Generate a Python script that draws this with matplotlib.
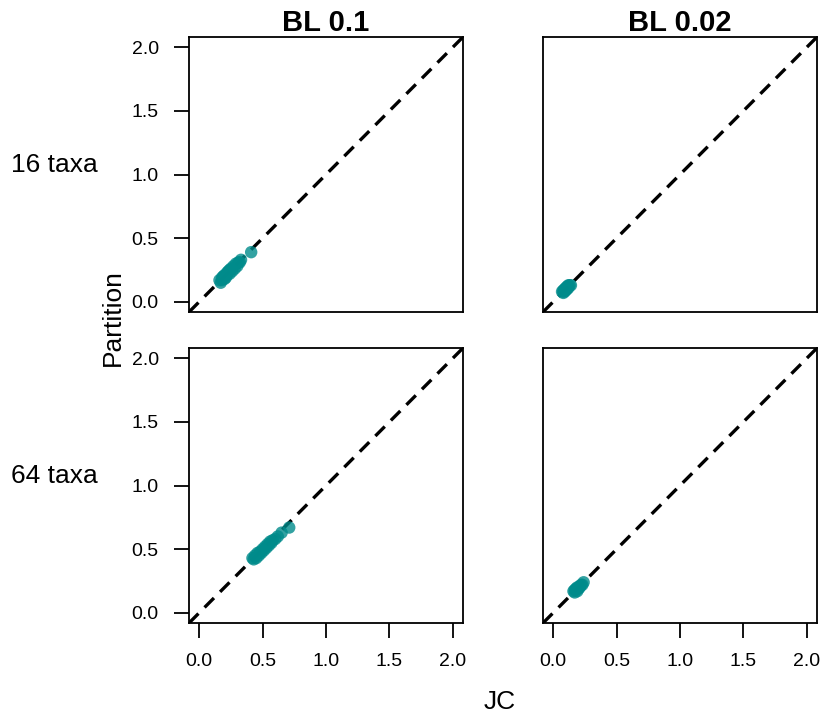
import numpy as np
import matplotlib.pyplot as plt

plt.rcParams['font.family'] = ['Liberation Sans', 'DejaVu Sans']

# JC vs Partition estimates, one panel per (taxa, branch length) setting
jc_16_01 = [0.16, 0.17, 0.18, 0.18, 0.19, 0.20, 0.20, 0.21, 0.22, 0.22, 0.23, 0.24,
            0.24, 0.25, 0.26, 0.27, 0.28, 0.29, 0.30, 0.31, 0.32, 0.33, 0.41]
pt_16_01 = [0.17, 0.15, 0.19, 0.17, 0.20, 0.18, 0.21, 0.19, 0.23, 0.21, 0.24, 0.22,
            0.25, 0.26, 0.24, 0.28, 0.26, 0.30, 0.28, 0.31, 0.31, 0.33, 0.39]

jc_16_002 = [0.07, 0.08, 0.08, 0.09, 0.09, 0.10, 0.10, 0.11, 0.11, 0.12, 0.12, 0.13, 0.14]
pt_16_002 = [0.08, 0.07, 0.09, 0.10, 0.08, 0.11, 0.09, 0.12, 0.10, 0.13, 0.11, 0.13, 0.13]

jc_64_01 = [0.42, 0.43, 0.44, 0.45, 0.46, 0.47, 0.48, 0.49, 0.50, 0.51, 0.52, 0.53,
            0.54, 0.55, 0.56, 0.57, 0.58, 0.60, 0.62, 0.65, 0.71]
pt_64_01 = [0.43, 0.42, 0.45, 0.43, 0.47, 0.45, 0.48, 0.47, 0.50, 0.49, 0.52, 0.51,
            0.54, 0.53, 0.56, 0.55, 0.57, 0.58, 0.60, 0.63, 0.67]

jc_64_002 = [0.16, 0.17, 0.17, 0.18, 0.19, 0.19, 0.20, 0.21, 0.21, 0.22, 0.23, 0.24]
pt_64_002 = [0.17, 0.16, 0.18, 0.19, 0.17, 0.20, 0.19, 0.21, 0.20, 0.22, 0.22, 0.24]

col_titles = ['BL 0.1', 'BL 0.02']
row_titles = ['16 taxa', '64 taxa']
ticks = [0.0, 0.5, 1.0, 1.5, 2.0]
tick_labels = ['0.0', '0.5', '1.0', '1.5', '2.0']

panels = [[(jc_16_01, pt_16_01), (jc_16_002, pt_16_002)],
          [(jc_64_01, pt_64_01), (jc_64_002, pt_64_002)]]

fig = plt.figure(figsize=(8.24, 7.13), dpi=100)
lefts = [0.2294, 0.659]
bottoms = [0.5624, 0.1262]
w, h = 0.3325, 0.3857

for r in range(2):
    for c in range(2):
        ax = fig.add_axes([lefts[c], bottoms[r], w, h])
        x, y = panels[r][c]
        ax.plot([-0.08, 2.08], [-0.08, 2.08], color='black', lw=2.4,
                ls=(0, (4, 2.6)), zorder=1)
        ax.scatter(x, y, s=80, color='#008b8b', alpha=0.8, edgecolors='none', zorder=2)
        ax.set_xlim(-0.08, 2.08)
        ax.set_ylim(-0.08, 2.08)
        for sp in ax.spines.values():
            sp.set_linewidth(1.3)
        ax.tick_params(length=10.8, width=1.3, labelsize=14, pad=11)
        if c == 0:
            ax.set_yticks(ticks)
            ax.set_yticklabels(tick_labels)
        else:
            ax.set_yticks([])
        if r == 1:
            ax.set_xticks(ticks)
            ax.set_xticklabels(tick_labels)
        else:
            ax.set_xticks([])
        if r == 0:
            ax.set_title(col_titles[c], fontsize=21, fontweight='bold', pad=1)
        if c == 0:
            ax.text(-0.49, 0.535, row_titles[r], transform=ax.transAxes,
                    ha='center', va='center', fontsize=19)

fig.text(0.137, 0.554, 'Partition', rotation=90, ha='center', va='center', fontsize=19)
fig.text(0.607, 0.016, 'JC', ha='center', va='center', fontsize=19)

fig.savefig('out.png', dpi=100)
